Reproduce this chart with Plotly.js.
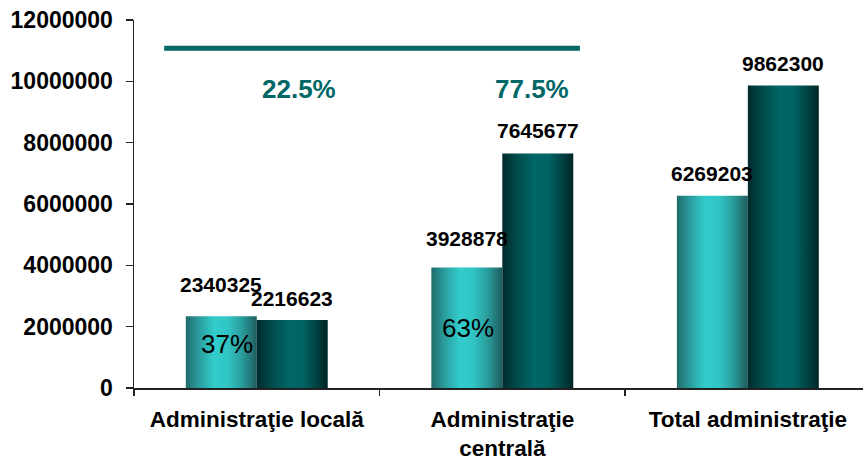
<!DOCTYPE html>
<html>
<head>
<meta charset="utf-8">
<script src="https://cdn.plot.ly/plotly-3.0.1.min.js"></script>
<style>
  html, body { margin: 0; padding: 0; background: #ffffff; }
  #chart { width: 863px; height: 461px; }
</style>
</head>
<body>
<div id="chart"></div>
<script>
// ---- data ----
var categories = ['Administraţie locală', 'Administraţie<br>centrală', 'Total administraţie'];
var seriesA = [2340325, 3928878, 6269203];   // light teal bars
var seriesB = [2216623, 7645677, 9862300];   // dark teal bars
var yTickVals = [0, 2000000, 4000000, 6000000, 8000000, 10000000, 12000000];

// ---- styles ----
var FONT = 'Liberation Sans, Arial, sans-serif';
var TEAL = '#006666';
var lightColor = '#2bb3b3';
var darkColor = '#005a5a';
var barHalf = 0.1445;                 // half width of one bar in category units
var labelLift = [[32, 29, 22], [22, 23, 22]]; // px above bar tops for value labels

var data = [
  { type: 'bar', name: 'A', x: categories, y: seriesA,
    marker: { color: lightColor, line: { width: 0 } }, hoverinfo: 'none' },
  { type: 'bar', name: 'B', x: categories, y: seriesB,
    marker: { color: darkColor, line: { width: 0 } }, hoverinfo: 'none' }
];

var annotations = [];
[seriesA, seriesB].forEach(function (s, k) {
  s.forEach(function (v, i) {
    annotations.push({
      x: i + (k === 0 ? -barHalf : barHalf), y: v, xref: 'x', yref: 'y',
      text: String(v), showarrow: false, xanchor: 'center', yanchor: 'middle',
      yshift: labelLift[k][i],
      font: { family: FONT, size: 21, color: '#000000', weight: 'bold' }
    });
  });
});

// shares of the two administrations
var pctLocalTotal = Math.round(1000 * seriesB[0] / seriesB[2]) / 10;
var pctCentralTotal = Math.round(1000 * seriesB[1] / seriesB[2]) / 10;
var pctLocalA = Math.round(100 * seriesA[0] / seriesA[2]);
var pctCentralA = Math.round(100 * seriesA[1] / seriesA[2]);

annotations.push(
  { x: 0.173, y: 9750000, xref: 'x', yref: 'y', text: pctLocalTotal.toFixed(1) + '%',
    showarrow: false, xanchor: 'center', yanchor: 'middle',
    font: { family: FONT, size: 26, color: TEAL, weight: 'bold' } },
  { x: 1.122, y: 9750000, xref: 'x', yref: 'y', text: pctCentralTotal.toFixed(1) + '%',
    showarrow: false, xanchor: 'center', yanchor: 'middle',
    font: { family: FONT, size: 26, color: TEAL, weight: 'bold' } },
  { x: 0 - barHalf + 0.024, y: 1435000, xref: 'x', yref: 'y', text: pctLocalA + '%',
    showarrow: false, xanchor: 'center', yanchor: 'middle',
    font: { family: FONT, size: 26, color: '#000000' } },
  { x: 1 - barHalf + 0.006, y: 1960000, xref: 'x', yref: 'y', text: pctCentralA + '%',
    showarrow: false, xanchor: 'center', yanchor: 'middle',
    font: { family: FONT, size: 26, color: '#000000' } }
);

var layout = {
  width: 863, height: 461,
  margin: { l: 134, r: 0, t: 20, b: 73, pad: 0 },
  paper_bgcolor: '#ffffff', plot_bgcolor: '#ffffff',
  showlegend: false,
  barmode: 'group', bargap: 0.422, bargroupgap: 0,
  font: { family: FONT, color: '#000000' },
  xaxis: {
    type: 'category', range: [-0.5, 2.469], fixedrange: true,
    showline: true, linecolor: '#222222', linewidth: 1.5,
    ticks: 'outside', tickson: 'boundaries', ticklen: 6, tickcolor: '#222222', tickwidth: 1.5,
    ticklabelstandoff: 10,
    showgrid: false, zeroline: false,
    tickfont: { family: FONT, size: 22.5, color: '#000000', weight: 'bold' }
  },
  yaxis: {
    range: [0, 12000000], tickvals: yTickVals, ticktext: yTickVals.map(String),
    showline: true, linecolor: '#222222', linewidth: 1.5,
    ticks: 'outside', ticklen: 7, tickcolor: '#222222', tickwidth: 1.5,
    ticklabelstandoff: 8,
    showgrid: false, zeroline: false, fixedrange: true,
    tickfont: { family: FONT, size: 23, color: '#000000', weight: 'bold' }
  },
  shapes: [
    { type: 'line', xref: 'x', yref: 'y', x0: -0.377, x1: 1.316, y0: 11080000, y1: 11080000,
      line: { color: TEAL, width: 5 } }
  ],
  annotations: annotations
};

Plotly.newPlot('chart', data, layout, { staticPlot: true, displayModeBar: false }).then(function (gd) {
  var svg = gd.querySelector('svg.main-svg');
  var defs = svg.querySelector('defs');
  var NS = 'http://www.w3.org/2000/svg';
  function addGrad(id, stops) {
    var g = document.createElementNS(NS, 'linearGradient');
    g.setAttribute('id', id);
    g.setAttribute('x1', '0'); g.setAttribute('y1', '0');
    g.setAttribute('x2', '1'); g.setAttribute('y2', '0');
    stops.forEach(function (s) {
      var st = document.createElementNS(NS, 'stop');
      st.setAttribute('offset', s[0]);
      st.setAttribute('stop-color', s[1]);
      g.appendChild(st);
    });
    defs.appendChild(g);
  }
  addGrad('gLight', [['0', '#216a6a'], ['0.18', '#2a9c9c'], ['0.4', '#33cccc'], ['0.6', '#31c4c4'], ['0.8', '#2a9a9a'], ['1', '#1e5c5c']]);
  addGrad('gDark', [['0', '#002a2a'], ['0.2', '#004a4a'], ['0.45', '#006666'], ['0.65', '#006262'], ['0.85', '#004040'], ['1', '#002626']]);
  var traces = gd.querySelectorAll('.barlayer .trace');
  var ids = ['gLight', 'gDark'];
  traces.forEach(function (t, k) {
    t.querySelectorAll('path').forEach(function (p) { p.style.fill = 'url(#' + ids[k] + ')'; });
  });
});
</script>
</body>
</html>
